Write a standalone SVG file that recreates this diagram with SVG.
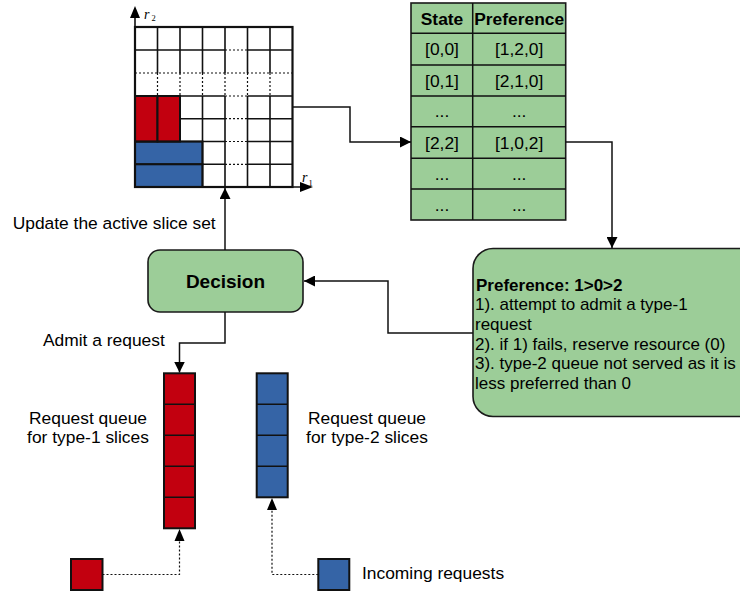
<svg xmlns="http://www.w3.org/2000/svg" width="740" height="594" viewBox="0 0 740 594">
<defs>
<style>
text{font-family:"Liberation Sans",Arial,sans-serif;font-size:17.4px;fill:#000}
.b{font-weight:bold}
.p{font-size:17px}
.g{fill:#9ccd98;stroke:#1a1a1a;stroke-width:1.6}
.red{fill:#c2000f;stroke:#111;stroke-width:2}
.blue{fill:#3564a6;stroke:#111;stroke-width:2}
.s{stroke:#111;stroke-width:1.6;fill:none}
.d{stroke:#111;stroke-width:1.2;stroke-dasharray:2 2;fill:none}
.c{stroke:#111;stroke-width:1.5;fill:none}
.m{text-anchor:middle}
.ax{font-family:"Liberation Serif","Times New Roman",serif;font-style:italic;font-size:14px}
.sub{font-family:"Liberation Serif","Times New Roman",serif;font-size:8.5px}
</style>
<marker id="ah" viewBox="0 0 10 10" refX="10" refY="5" markerWidth="11" markerHeight="11" markerUnits="userSpaceOnUse" orient="auto">
<path d="M0,0 L10,5 L0,10 z" fill="#000"/>
</marker>
</defs>
<rect width="740" height="594" fill="#fff"/>

<g id="grid">
<rect x="135" y="141.5" width="67.5" height="22.8" class="blue"/>
<rect x="135" y="164.3" width="67.5" height="22.7" class="blue"/>
<rect x="135" y="96" width="22.5" height="45.5" class="red"/>
<rect x="157.5" y="96" width="22.5" height="45.5" class="red"/>
<path class="s" d="M157.5,27V73 M180,27V73 M202.5,27V73 M225,27V73 M247.5,27V73 M270,27V73
M202.5,96V187 M225,96V187 M247.5,96V187 M270,96V187 M180,96V141.5"/>
<path class="d" d="M157.5,73V96 M180,73V96 M202.5,73V96 M225,73V96 M247.5,73V96 M270,73V96"/>
<path class="s" d="M135,50H225 M247.5,50H292.5 M135,96H225 M247.5,96H292.5 M180,118.7H225 M247.5,118.7H292.5 M135,141.5H225 M247.5,141.5H292.5 M202.5,164.3H225 M247.5,164.3H292.5"/>
<path class="d" d="M135,73H292.5 M225,50H247.5 M225,96H247.5 M225,118.7H247.5 M225,141.5H247.5 M225,164.3H247.5"/>
<rect x="135" y="27" width="157.5" height="160" fill="none" stroke="#111" stroke-width="2.2"/>
<path class="s" d="M135,187V10 M135,187H304"/>
<path d="M130,18 L135,6 L140,18 z M300,182 L313,187 L300,192 z" fill="#000"/>
<text x="144" y="18.5" class="ax">r</text><text x="151.5" y="21" class="sub">2</text>
<text x="302" y="181.5" class="ax">r</text><text x="308.5" y="185.5" class="sub">1</text>
</g>

<g id="table">
<rect x="411" y="3" width="154.7" height="217" class="g"/>
<path class="c" d="M472.7,3V220 M411,33.3H565.7 M411,65H565.7 M411,96H565.7 M411,126.7H565.7 M411,158.3H565.7 M411,189H565.7"/>
<text x="442" y="24.5" class="m b">State</text>
<text x="519.2" y="24.5" class="m b">Preference</text>
<text x="442" y="55" class="m">[0,0]</text><text x="519.2" y="55" class="m">[1,2,0]</text>
<text x="442" y="86.5" class="m">[0,1]</text><text x="519.2" y="86.5" class="m">[2,1,0]</text>
<text x="442" y="117" class="m">...</text><text x="519.2" y="117" class="m">...</text>
<text x="442" y="148.5" class="m">[2,2]</text><text x="519.2" y="148.5" class="m">[1,0,2]</text>
<text x="442" y="179.5" class="m">...</text><text x="519.2" y="179.5" class="m">...</text>
<text x="442" y="210.5" class="m">...</text><text x="519.2" y="210.5" class="m">...</text>
</g>

<g id="preference">
<rect x="473" y="248.5" width="290" height="168" rx="20" class="g"/>
<text x="476" y="290.5" class="b p">Preference: 1&gt;0&gt;2</text>
<text x="475" y="310" class="p">1). attempt to admit a type-1</text>
<text x="475" y="329.5" class="p">request</text>
<text x="475" y="349.5" class="p">2). if 1) fails, reserve resource (0)</text>
<text x="475" y="369" class="p">3). type-2 queue not served as it is</text>
<text x="475" y="388.5" class="p">less preferred than 0</text>
</g>

<g id="decision">
<rect x="148" y="250" width="155" height="62" rx="12" class="g"/>
<text x="225.5" y="287.5" class="m b" style="font-size:19px">Decision</text>
</g>

<g id="queue1">
<rect x="164" y="373.3" width="31" height="155" class="red"/>
<path class="s" d="M164,404.3H195 M164,435.3H195 M164,466.3H195 M164,497.3H195"/>
<text x="88" y="424" class="m">Request queue</text>
<text x="88" y="443" class="m">for type-1 slices</text>
</g>

<g id="queue2">
<rect x="256.7" y="373.3" width="31" height="124" class="blue"/>
<path class="s" d="M256.7,404.3H287.7 M256.7,435.3H287.7 M256.7,466.3H287.7"/>
<text x="367" y="424" class="m">Request queue</text>
<text x="367" y="443" class="m">for type-2 slices</text>
</g>

<g id="incoming1">
<rect x="71" y="559" width="31.5" height="31" class="red"/>
</g>
<g id="incoming2">
<rect x="318.3" y="559" width="31" height="31" class="blue"/>
<text x="362" y="578.5">Incoming requests</text>
</g>

<g id="labels">
<text x="12.7" y="229">Update the active slice set</text>
<text x="43" y="345.5">Admit a request</text>
</g>

<g id="connectors">
<path class="c" d="M292.5,107H350V142H411" marker-end="url(#ah)"/>
<path class="c" d="M565.7,142H612V248" marker-end="url(#ah)"/>
<path class="c" d="M473,333H388V281H304" marker-end="url(#ah)"/>
<path class="c" d="M225,250V188" marker-end="url(#ah)"/>
<path class="c" d="M225,312V343H179.5V372.5" marker-end="url(#ah)"/>
<path class="d" d="M102.5,574.5H179.5V540"/>
<path d="M174.5,541 L179.5,529 L184.5,541 z" fill="#000"/>
<path class="d" d="M318.3,574.5H272V509"/>
<path d="M267,510 L272,498 L277,510 z" fill="#000"/>
</g>
</svg>
